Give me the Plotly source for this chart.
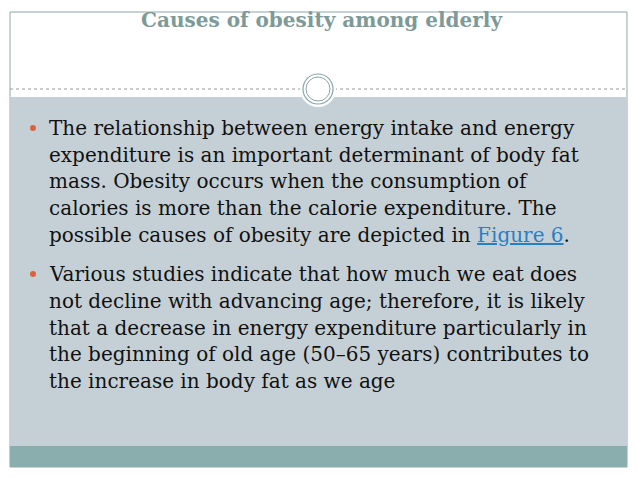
import plotly.graph_objects as go

title = "Causes of obesity among elderly"
bullet1 = [
    "The relationship between energy intake and energy",
    "expenditure is an important determinant of body fat",
    "mass. Obesity occurs when the consumption of",
    "calories is more than the calorie expenditure. The",
    "possible causes of obesity are depicted in <span style='color:#2a7fc1;text-decoration:underline'>Figure 6</span>.",
]
bullet2 = [
    "Various studies indicate that how much we eat does",
    "not decline with advancing age; therefore, it is likely",
    "that a decrease in energy expenditure particularly in",
    "the beginning of old age (50–65 years) contributes to",
    "the increase in body fat as we age",
]
y1 = [128, 155, 181, 208, 235]
y2 = [274, 301, 328, 354, 381]

fig = go.Figure()
font = dict(family="DejaVu Serif", size=20, color="#111111")
shapes = [
    dict(type="rect", x0=10, x1=627, y0=12, y1=467, line=dict(color="#8fa8a8", width=1), fillcolor="white"),
    dict(type="rect", x0=10, x1=627, y0=97, y1=446, line=dict(width=0), fillcolor="#c5d0d6"),
    dict(type="rect", x0=10, x1=627, y0=446, y1=467, line=dict(width=0), fillcolor="#8aadad"),
    dict(type="line", x0=10, x1=627, y0=89, y1=89, line=dict(color="#9a9a9a", width=1, dash="dot")),
    dict(type="circle", x0=300, x1=336, y0=71, y1=107, line=dict(width=0), fillcolor="white"),
    dict(type="circle", x0=303, x1=333, y0=74, y1=104, line=dict(color="#8aa5a5", width=1.2), fillcolor="white"),
    dict(type="circle", x0=306, x1=330, y0=77, y1=101, line=dict(color="#8aa5a5", width=1), fillcolor="white"),
]
for ys in (y1, y2):
    shapes.append(dict(type="circle", x0=30, x1=36, y0=ys[0]-3, y1=ys[0]+3, line=dict(width=0), fillcolor="#d9633f"))
fig.update_layout(shapes=shapes)

ann = [dict(x=322, y=20, text="<b>"+title+"</b>", showarrow=False, xanchor="center", yanchor="middle",
            font=dict(family="DejaVu Serif", size=20, color="#7d9a98"))]
for lines, ys in ((bullet1, y1), (bullet2, y2)):
    for t, y in zip(lines, ys):
        ann.append(dict(x=47, y=y, text=t, showarrow=False, xanchor="left", yanchor="middle", font=font))
fig.update_layout(annotations=ann)

fig.update_xaxes(range=[8, 646], visible=False)
fig.update_yaxes(range=[487, 8], visible=False)
fig.update_layout(width=638, height=479, margin=dict(l=0, r=0, t=0, b=0),
                  plot_bgcolor="white", paper_bgcolor="white", showlegend=False)
fig.write_html("out.html")
